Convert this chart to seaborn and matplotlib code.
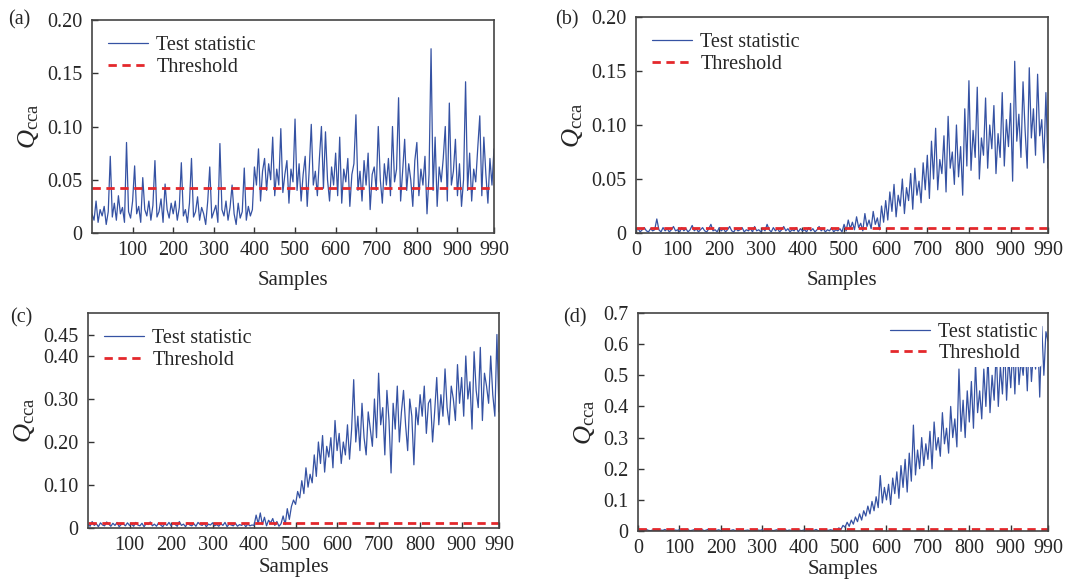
import numpy as np
import pandas as pd
import matplotlib
matplotlib.use("Agg")
import matplotlib.pyplot as plt
import seaborn as sns

# =========================
# Data (one value every 5 samples)
# =========================
samples = np.arange(0, 991, 5)

q_a = [
    0.018, 0.012, 0.030, 0.010, 0.022, 0.016, 0.025, 0.008, 0.020, 0.072, 0.015, 0.028, 0.012, 0.035, 0.018, 0.024, 0.010, 0.085, 0.020, 0.014,
    0.030, 0.063, 0.018, 0.025, 0.010, 0.052, 0.022, 0.016, 0.030, 0.012, 0.026, 0.068, 0.015, 0.020, 0.032, 0.010, 0.046, 0.022, 0.014, 0.028,
    0.018, 0.030, 0.012, 0.024, 0.066, 0.016, 0.022, 0.010, 0.028, 0.070, 0.015, 0.020, 0.034, 0.012, 0.024, 0.018, 0.008, 0.030, 0.062, 0.014,
    0.020, 0.026, 0.010, 0.084, 0.022, 0.016, 0.030, 0.012, 0.024, 0.045, 0.018, 0.008, 0.028, 0.014, 0.020, 0.061, 0.012, 0.025, 0.016, 0.022,
    0.062, 0.045, 0.079, 0.030, 0.058, 0.070, 0.040, 0.065, 0.050, 0.090, 0.035, 0.060, 0.045, 0.098, 0.038, 0.055, 0.068, 0.028, 0.060, 0.048,
    0.107, 0.040, 0.065, 0.030, 0.055, 0.072, 0.025, 0.060, 0.102, 0.045, 0.058, 0.035, 0.070, 0.100, 0.042, 0.095, 0.050, 0.030, 0.062, 0.045,
    0.075, 0.035, 0.090, 0.028, 0.060, 0.048, 0.070, 0.025, 0.055, 0.065, 0.111, 0.040, 0.058, 0.030, 0.068, 0.045, 0.075, 0.022, 0.055, 0.062,
    0.040, 0.100, 0.050, 0.028, 0.065, 0.045, 0.070, 0.035, 0.100, 0.048, 0.060, 0.127, 0.030, 0.058, 0.088, 0.040, 0.065, 0.050, 0.025, 0.068,
    0.085, 0.035, 0.060, 0.045, 0.072, 0.018, 0.055, 0.173, 0.040, 0.090, 0.025, 0.062, 0.048, 0.070, 0.100, 0.030, 0.122, 0.045, 0.058, 0.088,
    0.035, 0.065, 0.025, 0.050, 0.142, 0.040, 0.075, 0.030, 0.060, 0.048, 0.080, 0.110, 0.035, 0.090, 0.055, 0.028, 0.070, 0.045, 0.079,
]

q_b = [
    0.002, 0.004, 0.001, 0.003, 0.005, 0.002, 0.001, 0.004, 0.002, 0.003, 0.013, 0.003, 0.001, 0.005, 0.002, 0.004, 0.001, 0.003, 0.006, 0.002,
    0.003, 0.001, 0.005, 0.002, 0.004, 0.001, 0.003, 0.007, 0.002, 0.004, 0.001, 0.003, 0.005, 0.002, 0.001, 0.004, 0.008, 0.002, 0.003, 0.001,
    0.005, 0.002, 0.004, 0.001, 0.003, 0.006, 0.002, 0.001, 0.004, 0.002, 0.003, 0.005, 0.001, 0.003, 0.002, 0.004, 0.001, 0.006, 0.002, 0.003,
    0.001, 0.004, 0.002, 0.008, 0.003, 0.001, 0.005, 0.002, 0.004, 0.001, 0.003, 0.006, 0.002, 0.004, 0.001, 0.003, 0.002, 0.005, 0.001, 0.004,
    0.002, 0.003, 0.001, 0.005, 0.002, 0.004, 0.001, 0.003, 0.006, 0.002, 0.004, 0.001, 0.003, 0.002, 0.005, 0.001, 0.003, 0.002, 0.004, 0.001,
    0.008, 0.002, 0.012, 0.004, 0.010, 0.003, 0.015, 0.005, 0.009, 0.002, 0.018, 0.006, 0.012, 0.004, 0.020, 0.008, 0.014, 0.003, 0.025, 0.010,
    0.030, 0.012, 0.038, 0.020, 0.045, 0.015, 0.035, 0.025, 0.050, 0.018, 0.042, 0.030, 0.055, 0.022, 0.060, 0.035, 0.048, 0.028, 0.065, 0.040,
    0.072, 0.032, 0.085, 0.050, 0.097, 0.040, 0.068, 0.055, 0.090, 0.038, 0.108, 0.060, 0.075, 0.045, 0.100, 0.052, 0.080, 0.035, 0.115, 0.062,
    0.141, 0.058, 0.095, 0.070, 0.135, 0.050, 0.088, 0.072, 0.125, 0.060, 0.100, 0.078, 0.118, 0.055, 0.092, 0.070, 0.130, 0.062, 0.105, 0.080,
    0.120, 0.048, 0.159, 0.085, 0.110, 0.070, 0.140, 0.095, 0.060, 0.153, 0.088, 0.115, 0.072, 0.147, 0.090, 0.105, 0.065, 0.130, 0.060,
]

q_c = [
    0.008, 0.004, 0.015, 0.006, 0.010, 0.003, 0.012, 0.007, 0.005, 0.014, 0.009, 0.004, 0.011, 0.006, 0.013, 0.003, 0.008, 0.010, 0.005, 0.012,
    0.006, 0.009, 0.004, 0.013, 0.007, 0.005, 0.011, 0.003, 0.010, 0.008, 0.014, 0.005, 0.009, 0.004, 0.012, 0.007, 0.003, 0.010, 0.006, 0.013,
    0.005, 0.011, 0.008, 0.004, 0.015, 0.006, 0.009, 0.003, 0.012, 0.007, 0.005, 0.010, 0.004, 0.013, 0.008, 0.006, 0.011, 0.003, 0.009, 0.007,
    0.012, 0.005, 0.008, 0.004, 0.010, 0.006, 0.013, 0.003, 0.009, 0.007, 0.005, 0.011, 0.004, 0.008, 0.006, 0.010, 0.003, 0.009, 0.005, 0.007,
    0.006, 0.030, 0.010, 0.035, 0.008, 0.025, 0.005, 0.018, 0.012, 0.022, 0.006, 0.015, 0.004, 0.010, 0.028, 0.008, 0.045, 0.020, 0.050, 0.065,
    0.055, 0.085, 0.070, 0.110, 0.080, 0.140, 0.095, 0.125, 0.105, 0.170, 0.120, 0.200, 0.150, 0.215, 0.130, 0.190, 0.165, 0.210, 0.140, 0.250,
    0.180, 0.220, 0.150, 0.200, 0.170, 0.240, 0.160, 0.230, 0.345, 0.200, 0.260, 0.180, 0.290, 0.210, 0.170, 0.270, 0.230, 0.190, 0.300, 0.210,
    0.360, 0.240, 0.280, 0.170, 0.320, 0.250, 0.128, 0.290, 0.230, 0.330, 0.200, 0.270, 0.320, 0.240, 0.180, 0.300, 0.260, 0.147, 0.280, 0.240,
    0.310, 0.260, 0.330, 0.220, 0.290, 0.300, 0.200, 0.270, 0.350, 0.240, 0.310, 0.260, 0.370, 0.280, 0.240, 0.330, 0.300, 0.250, 0.380, 0.290,
    0.350, 0.260, 0.400, 0.300, 0.340, 0.230, 0.410, 0.320, 0.280, 0.420, 0.250, 0.360, 0.330, 0.290, 0.400, 0.310, 0.260, 0.450, 0.270,
]

q_d = [
    0.002, 0.004, 0.001, 0.003, 0.005, 0.002, 0.001, 0.003, 0.002, 0.004, 0.001, 0.003, 0.002, 0.005, 0.001, 0.002, 0.004, 0.001, 0.003, 0.002,
    0.004, 0.001, 0.003, 0.002, 0.005, 0.001, 0.002, 0.004, 0.001, 0.003, 0.002, 0.004, 0.001, 0.003, 0.006, 0.002, 0.001, 0.003, 0.002, 0.004,
    0.001, 0.003, 0.002, 0.005, 0.001, 0.002, 0.004, 0.001, 0.003, 0.002, 0.004, 0.001, 0.002, 0.003, 0.001, 0.004, 0.002, 0.001, 0.003, 0.002,
    0.004, 0.001, 0.003, 0.002, 0.006, 0.001, 0.002, 0.004, 0.001, 0.003, 0.002, 0.005, 0.001, 0.003, 0.002, 0.004, 0.001, 0.002, 0.003, 0.001,
    0.003, 0.002, 0.004, 0.001, 0.003, 0.002, 0.005, 0.001, 0.002, 0.004, 0.001, 0.003, 0.002, 0.004, 0.002, 0.006, 0.003, 0.010, 0.005, 0.018,
    0.012, 0.028, 0.015, 0.035, 0.022, 0.045, 0.030, 0.055, 0.035, 0.065, 0.048, 0.080, 0.055, 0.095, 0.065, 0.110, 0.075, 0.178, 0.090, 0.140,
    0.100, 0.150, 0.085, 0.170, 0.120, 0.190, 0.105, 0.210, 0.140, 0.230, 0.125, 0.250, 0.160, 0.340, 0.180, 0.260, 0.200, 0.300, 0.210, 0.280,
    0.230, 0.320, 0.200, 0.350, 0.260, 0.300, 0.240, 0.380, 0.280, 0.330, 0.250, 0.400, 0.300, 0.360, 0.270, 0.520, 0.320, 0.420, 0.300, 0.450,
    0.350, 0.480, 0.330, 0.540, 0.380, 0.450, 0.360, 0.520, 0.400, 0.560, 0.380, 0.500, 0.420, 0.580, 0.400, 0.530, 0.440, 0.600, 0.420, 0.560,
    0.460, 0.590, 0.440, 0.620, 0.470, 0.550, 0.500, 0.600, 0.450, 0.630, 0.480, 0.580, 0.520, 0.640, 0.430, 0.657, 0.500, 0.640, 0.610,
]

thresholds = [0.042, 0.0045, 0.012, 0.005]
panel_tags = ["(a)", "(b)", "(c)", "(d)"]
y_limits = [(0, 0.20), (0, 0.20), (0, 0.50), (0, 0.70)]
y_ticks = [
    [0, 0.05, 0.10, 0.15, 0.20],
    [0, 0.05, 0.10, 0.15, 0.20],
    [0, 0.10, 0.20, 0.30, 0.40, 0.45],
    [0, 0.1, 0.2, 0.3, 0.4, 0.5, 0.6, 0.7],
]
y_ticklabels = [
    ["0", "0.05", "0.10", "0.15", "0.20"],
    ["0", "0.05", "0.10", "0.15", "0.20"],
    ["0", "0.10", "0.20", "0.30", "0.40", "0.45"],
    ["0", "0.1", "0.2", "0.3", "0.4", "0.5", "0.6", "0.7"],
]
x_ticks_nozero = [100, 200, 300, 400, 500, 600, 700, 800, 900, 990]
x_ticks_zero = [0, 100, 200, 300, 400, 500, 600, 700, 800, 900, 990]

# =========================
# Style
# =========================
sns.set_style("ticks")
plt.rcParams["font.family"] = ["Liberation Serif", "DejaVu Serif"]
plt.rcParams["mathtext.fontset"] = "custom"
plt.rcParams["mathtext.rm"] = "Liberation Serif"
plt.rcParams["mathtext.it"] = "Liberation Serif:italic"
plt.rcParams["xtick.direction"] = "in"
plt.rcParams["ytick.direction"] = "in"

W, H = 1083, 583
fig = plt.figure(figsize=(W / 100, H / 100), dpi=100)

# pixel boxes: left, right, top, bottom
boxes = [
    (92, 494, 20, 233),
    (636, 1048, 17, 233),
    (88, 499, 313, 528),
    (638, 1048, 313, 531),
]
tag_pos = [(8, 20), (555, 20), (10, 318), (563, 318)]
xlabel_pads = [8, 8, 2, 1]

series = [q_a, q_b, q_c, q_d]
line_color = "#3552a3"
red = "#e4282c"

for i in range(4):
    l, r, t, b = boxes[i]
    ax = fig.add_axes([l / W, (H - b) / H, (r - l) / W, (b - t) / H])

    df = pd.DataFrame({"Samples": samples, "Q": series[i]})
    sns.lineplot(data=df, x="Samples", y="Q", ax=ax, color=line_color,
                 linewidth=0.9, label="Test statistic")
    ax.axhline(thresholds[i], color=red, linewidth=2.0, dashes=(3, 2),
               label="Threshold")

    ax.set_xlim(0, 990)
    ax.set_ylim(*y_limits[i])
    ax.set_yticks(y_ticks[i])
    ax.set_yticklabels(y_ticklabels[i])
    xt = x_ticks_zero if i in (1, 3) else x_ticks_nozero
    ax.set_xticks(xt)
    ax.set_xticklabels([str(v) for v in xt])
    ax.tick_params(labelsize=14.5, length=4, width=1, color="#333333")
    ax.tick_params(axis="x", pad=6)
    ax.tick_params(axis="y", pad=7)

    for sp in ax.spines.values():
        sp.set_visible(True)
        sp.set_color("#444444")
        sp.set_linewidth(1.2)

    ax.set_xlabel("Samples", fontsize=15, labelpad=xlabel_pads[i])
    ax.set_ylabel(r"$Q_{\mathrm{cca}}$", fontsize=19, labelpad=4)

    if i == 3:
        leg = ax.legend(loc="upper right", fontsize=14.5, frameon=True,
                        facecolor="white", edgecolor="none", framealpha=1,
                        handlelength=2.0, labelspacing=0.1, borderpad=0.2,
                        borderaxespad=0.3, handletextpad=0.4)
    else:
        leg = ax.legend(loc="upper left", fontsize=14.5, frameon=False,
                        handlelength=2.0, labelspacing=0.15, borderpad=0.3,
                        borderaxespad=0.5, handletextpad=0.4)

    fig.text(tag_pos[i][0] / W, 1 - tag_pos[i][1] / H, panel_tags[i],
             fontsize=14.5, ha="left", va="center")

plt.savefig("out.png", dpi=100)
